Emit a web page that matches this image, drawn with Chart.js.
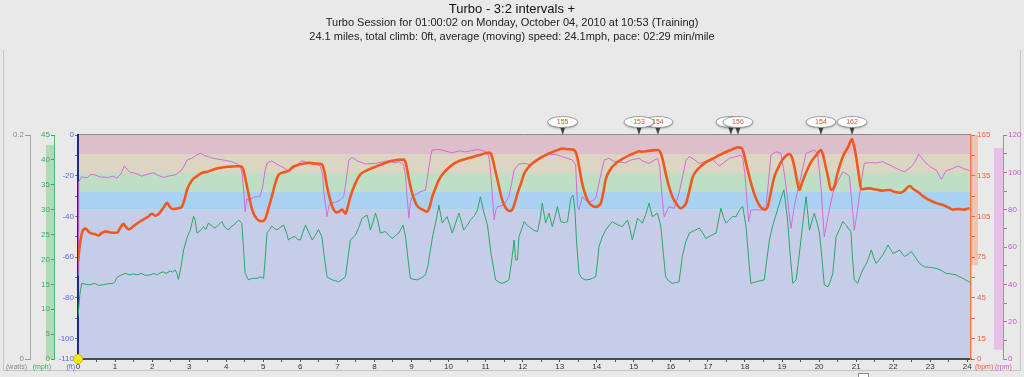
<!DOCTYPE html>
<html>
<head>
<meta charset="utf-8">
<script src="https://cdn.jsdelivr.net/npm/chart.js@4.4.1/dist/chart.umd.min.js"></script>
<style>
  html, body { margin: 0; padding: 0; background: #e9e9e9; overflow: hidden; }
  canvas { display: block; }
</style>
</head>
<body>
<canvas id="workout" width="1024" height="377"></canvas>
<script>
// Turbo session: heart rate, cadence and speed against distance (miles)

const titleText = 'Turbo - 3:2 intervals +';
const subtitleLines = [
    'Turbo Session for 01:00:02 on Monday, October 04, 2010 at 10:53 (Training)',
    '24.1 miles, total climb: 0ft, average (moving) speed: 24.1mph, pace: 02:29 min/mile'
];

// axis ranges
const distanceMax = 24.1;
const elevationRange = [-110, 0];
const speedAxisRange = [0, 45];
const powerAxisRange = [0, 0.2];
const hrAxisRange = [0, 165];
const cadenceAxisRange = [0, 120];

// heart rate zone edges (bpm), bottom to top
const hrZoneEdges = [0, 110, 123.5, 137, 151, 165];
const hrZoneColors = ['#c5cde8', '#a9d1f2', '#bfdfc5', '#dcd5c3', '#dcbfca'];

// min/max markers drawn on the axes
const speedSpan = [0, 43];
const hrSpan = [69, 165];
const cadenceSpan = [5, 113];

// [miles, bpm]
const heartRate = [
    [0,72],[0.05,84],[0.12,94],[0.2,96],[0.32,93],[0.45,92],[0.55,91],[0.65,93],[0.75,94],[0.9,93],
    [1.05,93],[1.15,97],[1.22,99.5],[1.3,97],[1.38,95.5],[1.5,98],[1.72,102],[1.9,105],[1.99,107],[2.1,105.5],
    [2.2,107.5],[2.32,112],[2.4,115],[2.48,112],[2.55,110.5],[2.7,111],[2.8,112],[2.88,118],[2.94,124.5],[3.07,131.5],
    [3.2,134.5],[3.34,137],[3.5,138],[3.7,140],[3.9,141],[4.06,141.6],[4.25,142],[4.38,142],[4.44,141],[4.5,135],
    [4.6,122],[4.7,110],[4.78,105],[4.88,102],[4.96,101.5],[5.05,103],[5.14,111],[5.23,119.5],[5.32,129],[5.41,135.5],
    [5.55,137.5],[5.68,138.5],[5.8,141.5],[5.95,143],[6.1,144],[6.22,144.6],[6.4,144],[6.58,143.5],[6.65,138],[6.72,127],
    [6.82,116],[6.9,110],[6.98,108],[7.04,108.5],[7.13,110],[7.22,107],[7.28,112],[7.35,119.5],[7.48,129],[7.62,136],
    [7.8,139],[8.03,141.6],[8.25,144],[8.48,146],[8.65,146.8],[8.79,147],[8.85,144],[8.92,134],[9.02,122],[9.15,113],
    [9.3,110],[9.42,108.5],[9.5,113],[9.56,119.5],[9.65,126],[9.74,132],[9.9,138],[10.1,143],[10.3,146],[10.55,148],
    [10.8,150],[11.0,151.5],[11.09,152],[11.15,151],[11.2,146],[11.32,132],[11.45,117],[11.55,111],[11.63,109],[11.72,110],
    [11.8,116],[11.86,122],[11.95,129],[12.05,137],[12.15,141],[12.26,144],[12.5,148.5],[12.71,151.5],[12.9,153.5],[13.08,155],
    [13.25,154.5],[13.39,154],[13.45,151],[13.5,145],[13.61,129],[13.75,117],[13.85,113.5],[13.97,112],[14.05,113],[14.11,114.7],
    [14.18,123],[14.24,132],[14.35,139],[14.51,144],[14.7,147.5],[14.87,150],[15.05,152],[15.14,153],[15.23,152.7],[15.45,153.5],
    [15.65,154],[15.72,152],[15.77,148],[15.85,138],[15.95,127],[16.05,119],[16.14,114.7],[16.27,111],[16.35,112.5],[16.41,114.7],
    [16.5,124],[16.59,134],[16.75,140.5],[16.95,145],[17.2,148.5],[17.4,151.5],[17.62,154],[17.81,156],[17.9,155.5],[17.95,153],
    [18.04,143],[18.12,134],[18.2,126],[18.3,118],[18.42,112],[18.52,110],[18.61,112],[18.7,123],[18.79,134],[18.88,140],
    [18.97,145],[19.1,149.5],[19.2,151],[19.26,149],[19.33,142],[19.4,132],[19.47,124.5],[19.53,129],[19.6,134],[19.7,140.5],
    [19.78,145],[19.92,150],[20.05,154],[20.1,151],[20.16,144],[20.25,133],[20.32,124.5],[20.41,127],[20.5,137],[20.64,149],
    [20.78,156],[20.89,162],[20.95,156],[21.0,149],[21.07,136],[21.14,125],[21.25,125.5],[21.36,125.7],[21.5,125],[21.7,124],
    [21.9,124.5],[22.05,123],[22.2,122.5],[22.3,124],[22.44,127.4],[22.55,125],[22.67,123],[22.8,120],[22.98,117],[23.15,115],
    [23.34,113.4],[23.5,111.5],[23.61,110],[23.75,110.5],[23.9,110],[24.06,111]
];

// [miles, rpm]
const cadence = [
    [0,45],[0.02,95],[0.1,97.6],[0.25,97],[0.35,99],[0.46,98.6],[0.6,97.5],[0.82,97.3],[0.95,98],[1.05,96.8],
    [1.15,99],[1.25,103.4],[1.33,101.5],[1.41,100],[1.55,99.5],[1.72,98],[1.88,99],[2.04,99.8],[2.15,98.5],[2.31,97.3],
    [2.45,98],[2.62,98.6],[2.72,100],[2.8,101.2],[2.88,104],[2.94,106.6],[3.07,107.5],[3.18,109],[3.3,110.2],[3.42,109],
    [3.52,108.4],[3.65,107.5],[3.79,107],[3.95,106.5],[4.15,105.7],[4.3,104.5],[4.38,103.4],[4.43,99],[4.47,90.5],[4.51,79],
    [4.56,86],[4.6,85],[4.74,86.6],[4.85,87],[4.92,87.3],[4.98,92],[5.05,101],[5.1,104.8],[5.23,106.2],[5.35,104.5],
    [5.5,103],[5.68,100.9],[5.8,102],[5.9,103.8],[6.05,106.2],[6.2,105],[6.32,104.5],[6.45,104],[6.54,103.4],[6.6,99],
    [6.63,90.5],[6.72,76.2],[6.77,82],[6.81,83.4],[6.99,84.3],[7.1,85.5],[7.17,87],[7.24,96],[7.31,106.6],[7.4,108],
    [7.55,106],[7.76,104.5],[8.03,104.8],[8.2,105.5],[8.39,106.2],[8.55,105],[8.66,105.7],[8.79,104],[8.84,98],[8.88,87],
    [8.93,75.4],[8.97,84],[9.02,87],[9.15,88.5],[9.24,89.6],[9.38,90.5],[9.45,100],[9.52,109],[9.56,112],[9.74,112.3],
    [9.9,111.5],[10.1,110.5],[10.3,111.5],[10.46,111],[10.6,111.5],[10.78,112.3],[10.95,111.5],[11.05,110.5],[11.1,107],[11.14,99.5],
    [11.23,74.5],[11.28,80],[11.32,81.6],[11.49,82.5],[11.63,87],[11.7,94],[11.77,101.2],[11.9,104.5],[12.08,104.8],[12.2,104],
    [12.35,105.7],[12.5,107.5],[12.71,109.8],[12.9,109.5],[13.07,108.4],[13.2,107.5],[13.34,106.6],[13.43,104],[13.48,81.6],[13.52,79.8],
    [13.61,87],[13.7,85],[13.84,84.3],[13.97,86],[14.08,96],[14.2,106.6],[14.33,107.5],[14.45,106],[14.6,105.7],[14.75,105],
    [14.92,106.6],[15.14,107.5],[15.25,106],[15.41,104.8],[15.55,106.5],[15.64,107.5],[15.7,103],[15.77,85],[15.82,76.2],[15.95,81.6],
    [16.09,80.7],[16.22,88.8],[16.32,98],[16.41,106.6],[16.5,108.4],[16.62,107],[16.77,104.8],[16.95,106],[17.13,107],[17.22,105],
    [17.31,103.4],[17.45,105.5],[17.58,107.5],[17.76,108.4],[17.89,109.3],[17.94,107.5],[18.0,99],[18.03,90.5],[18.1,73.5],[18.16,79.8],
    [18.3,80],[18.43,79.8],[18.57,82.5],[18.64,96],[18.7,109.3],[18.84,111],[18.97,110.2],[19.04,102],[19.11,92.3],[19.24,70],
    [19.33,81.6],[19.42,90],[19.51,97.7],[19.58,104],[19.65,110.2],[19.87,112],[19.96,110.2],[20.05,92.3],[20.14,65.5],[20.24,76.2],
    [20.37,88.8],[20.5,95],[20.64,100.3],[20.75,99],[20.82,97.7],[20.88,85],[20.95,69],[21.05,81.6],[21.14,95],[21.22,104.8],
    [21.36,105.2],[21.55,105],[21.72,105.7],[21.9,104],[22.08,102.2],[22.2,101],[22.31,100.3],[22.49,103],[22.6,106],[22.69,109.8],
    [22.85,105.7],[23.0,103],[23.16,101.2],[23.3,96.3],[23.43,100.9],[23.6,102],[23.75,103.4],[23.9,102],[24.06,100.9]
];

// [miles, mph]
const speed = [
    [0,8.5],[0.05,13],[0.1,15.2],[0.2,15],[0.32,14.9],[0.45,15.2],[0.55,14.8],[0.68,14.9],[0.8,15.1],[0.95,15.2],
    [1.0,15.6],[1.05,16.4],[1.15,16.8],[1.27,17.2],[1.4,16.9],[1.5,17.1],[1.59,16.9],[1.7,17.2],[1.82,16.8],[1.95,16.9],
    [2.05,17.2],[2.12,16.9],[2.22,17.3],[2.3,17.5],[2.38,17.2],[2.49,17.7],[2.55,17.5],[2.62,17.9],[2.67,17.2],[2.71,16],
    [2.78,18.5],[2.85,21.9],[2.95,24.5],[3.03,25.9],[3.12,28.7],[3.16,28],[3.21,25.3],[3.3,25.8],[3.39,26.6],[3.45,26],
    [3.52,27.3],[3.6,26.8],[3.7,26.3],[3.8,27],[3.88,27.6],[3.96,26.5],[4.06,25.9],[4.13,26.6],[4.2,26.9],[4.28,27.5],
    [4.33,27.9],[4.42,27.3],[4.46,23],[4.51,17.2],[4.6,15.9],[4.7,16.2],[4.83,16.2],[4.92,16.5],[5.01,16.2],[5.05,20],
    [5.1,25.3],[5.17,26],[5.23,26.7],[5.3,26.2],[5.37,25.9],[5.45,26.4],[5.55,26.9],[5.62,25.5],[5.68,23.9],[5.77,24.4],
    [5.86,24.6],[5.93,24],[6.0,23.9],[6.07,25.5],[6.14,26.9],[6.22,25.6],[6.32,23.9],[6.4,24.8],[6.49,26],[6.58,24.6],
    [6.64,21],[6.72,16.5],[6.86,15.9],[6.95,15.7],[7.04,15.5],[7.13,16],[7.22,16.5],[7.28,20],[7.35,23.9],[7.49,24.9],
    [7.58,26.5],[7.67,28.3],[7.8,28.9],[7.85,27.5],[7.89,25.9],[7.96,27.5],[8.03,29.3],[8.1,27.5],[8.16,25.3],[8.3,25.6],
    [8.4,24.8],[8.48,24.2],[8.57,24.8],[8.66,25.3],[8.77,26.9],[8.84,24.6],[8.9,20.5],[8.97,16.2],[9.06,16],[9.15,15.9],
    [9.27,16.3],[9.38,16.9],[9.45,19],[9.51,21.9],[9.58,25],[9.65,27.3],[9.74,30.9],[9.83,27.3],[9.9,28],[9.96,28.6],
    [10.03,27],[10.1,25.3],[10.2,27.5],[10.28,29.3],[10.35,27.5],[10.41,25.9],[10.5,26.8],[10.59,27.9],[10.7,28.8],[10.78,29.9],
    [10.86,32.6],[10.95,29.6],[11.05,26.9],[11.15,21],[11.27,15.9],[11.36,15.4],[11.45,15.2],[11.55,15.5],[11.63,15.9],[11.7,19.5],
    [11.77,23.9],[11.81,19.9],[11.86,19.9],[11.9,24.6],[11.97,26],[12.04,27.6],[12.13,26.8],[12.22,26.3],[12.31,25.8],[12.4,25.6],
    [12.47,28],[12.53,31.3],[12.62,27.3],[12.71,29.3],[12.8,26.6],[12.87,28.5],[12.94,30.6],[13.03,27.6],[13.12,27.4],[13.21,27.6],
    [13.3,32.3],[13.36,32.9],[13.41,29.9],[13.46,23],[13.52,17.2],[13.6,16.2],[13.7,15.9],[13.82,16],[13.9,16.3],[13.97,16.5],
    [14.02,19.5],[14.06,22.6],[14.15,24.5],[14.24,25.9],[14.33,26.8],[14.42,27.6],[14.55,27],[14.69,26.6],[14.76,27.3],[14.83,27.9],
    [14.9,26],[14.96,23.9],[15.03,26],[15.1,28.3],[15.23,27.3],[15.32,29],[15.41,31.3],[15.5,28.6],[15.64,29.3],[15.73,26.6],
    [15.8,21],[15.86,16.5],[15.95,15.6],[16.05,15.2],[16.15,15.4],[16.22,15.5],[16.31,20.6],[16.4,23.5],[16.5,25.3],[16.63,25.8],
    [16.77,26.3],[16.86,25.3],[16.95,24.2],[17.08,24.8],[17.22,25.3],[17.35,30.3],[17.42,28.5],[17.49,27.3],[17.58,28],[17.67,28.6],
    [17.76,28.6],[17.82,29.5],[17.89,30.3],[17.94,30.6],[18.03,26.6],[18.1,20],[18.16,15.2],[18.3,15.5],[18.41,15.7],[18.52,15.9],
    [18.59,20],[18.66,23.9],[18.75,26.9],[18.84,29],[18.93,31.3],[19.05,34],[19.1,31],[19.15,27.9],[19.22,21],[19.29,15.2],
    [19.38,15.9],[19.45,20],[19.51,23.9],[19.58,28.5],[19.65,32.6],[19.74,25.9],[19.8,27.5],[19.87,29.3],[19.94,27.5],[20.01,25.3],
    [20.08,20],[20.14,14.9],[20.24,14.5],[20.3,15.5],[20.37,17.2],[20.46,24.6],[20.55,26],[20.64,27.6],[20.72,27],[20.78,26.3],
    [20.86,25.6],[20.9,20.5],[20.95,15.9],[21.04,15.2],[21.1,16.5],[21.18,17.9],[21.3,19.5],[21.41,21.9],[21.47,20.5],[21.54,19.2],
    [21.63,20],[21.72,20.9],[21.8,22],[21.86,22.9],[21.93,22],[21.99,21.2],[22.08,21.5],[22.17,21.9],[22.24,21.2],[22.31,20.6],
    [22.4,21],[22.49,21.6],[22.6,20.4],[22.71,19.2],[22.78,18.8],[22.85,18.5],[23.0,18.4],[23.16,18.2],[23.3,17.8],[23.43,17.2],
    [23.55,17.1],[23.7,16.9],[23.8,16.5],[23.88,16.2],[24.0,15.7],[24.11,15.2]
];

// heart rate peak callouts [miles, bpm], in drawing order
const hrPeaks = [[13.08,155],[15.65,154],[15.14,153],[17.62,155],[17.81,156],[20.05,154],[20.89,162]];

// start marker [miles, ft]
const startMarker = [[0, -110]];

const unitLabels = [
    { axis: 'watts', text: '(watts)', color: '#8a8a8a' },
    { axis: 'mph',   text: '(mph)',   color: '#3aa85a' },
    { axis: 'ft',    text: '(ft)',    color: '#5b6be0' },
    { axis: 'bpm',   text: '(bpm)',   color: '#e8643c' },
    { axis: 'rpm',   text: '(rpm)',   color: '#cc55cc' }
];

const tickFont = { size: 8 };

function fixedWidth(w) {
    return scale => { scale.width = w; };
}

// background, hr zone bands and the axis span markers
const backdropPlugin = {
    id: 'backdrop',
    beforeDraw(chart) {
        const { ctx, chartArea: a, scales } = chart;
        ctx.save();
        ctx.fillStyle = '#e9e9e9';
        ctx.fillRect(0, 0, chart.width, chart.height);

        // frame
        ctx.strokeStyle = '#c4c4c4';
        ctx.lineWidth = 1;
        ctx.beginPath();
        ctx.moveTo(3.5, 50);
        ctx.lineTo(3.5, 370.5);
        ctx.lineTo(1020.5, 370.5);
        ctx.lineTo(1020.5, 50);
        ctx.stroke();

        const bpm = scales.bpm;
        for (let i = 0; i < hrZoneColors.length; i++) {
            const top = bpm.getPixelForValue(hrZoneEdges[i + 1]);
            const bottom = bpm.getPixelForValue(hrZoneEdges[i]);
            ctx.fillStyle = hrZoneColors[i];
            ctx.fillRect(a.left, top, a.right - a.left, bottom - top);
        }

        // plot top edge
        ctx.strokeStyle = '#8c8c8c';
        ctx.beginPath();
        ctx.moveTo(a.left, a.top - 0.5);
        ctx.lineTo(a.right, a.top - 0.5);
        ctx.stroke();

        const spans = [
            { scale: scales.mph, range: speedSpan, x: scales.mph.right - 8, w: 8, color: 'rgba(110,200,125,0.45)' },
            { scale: scales.bpm, range: hrSpan, x: scales.bpm.left, w: 7, color: 'rgba(245,150,110,0.45)' },
            { scale: scales.rpm, range: cadenceSpan, x: scales.rpm.left - 9, w: 9, color: 'rgba(230,150,230,0.5)' }
        ];
        spans.forEach(s => {
            const y1 = s.scale.getPixelForValue(s.range[1]);
            const y0 = s.scale.getPixelForValue(s.range[0]);
            ctx.fillStyle = s.color;
            ctx.fillRect(s.x, y1, s.w, y0 - y1);
        });
        ctx.restore();
    }
};

// unit labels under the y axes, peak callouts, HUD checkbox
const overlayPlugin = {
    id: 'overlay',
    afterDraw(chart) {
        const { ctx, scales } = chart;
        ctx.save();
        ctx.font = '7px "Liberation Sans", Arial, sans-serif';
        ctx.textBaseline = 'middle';
        unitLabels.forEach(u => {
            const s = scales[u.axis];
            ctx.fillStyle = u.color;
            if (s.position === 'left') {
                ctx.textAlign = 'right';
                ctx.fillText(u.text, s.right - 3, 367);
            } else {
                ctx.textAlign = 'left';
                ctx.fillText(u.text, u.axis === 'rpm' ? s.left - 8 : s.left + 4, 367);
            }
        });

        const top = chart.chartArea.top;
        hrPeaks.forEach(([mile, bpm]) => {
            const cx = scales.x.getPixelForValue(mile);
            const cy = top - 13;
            ctx.fillStyle = '#444';
            ctx.beginPath();
            ctx.moveTo(cx - 3, cy + 4);
            ctx.lineTo(cx, top);
            ctx.lineTo(cx + 3, cy + 4);
            ctx.closePath();
            ctx.fill();

            ctx.shadowColor = 'rgba(0,0,0,0.35)';
            ctx.shadowBlur = 2;
            ctx.shadowOffsetY = 1;
            ctx.fillStyle = '#ffffff';
            ctx.beginPath();
            ctx.ellipse(cx, cy, 15, 5.5, 0, 0, Math.PI * 2);
            ctx.fill();
            ctx.shadowColor = 'transparent';
            ctx.strokeStyle = '#8a8a8a';
            ctx.lineWidth = 0.8;
            ctx.stroke();

            ctx.fillStyle = '#e0502a';
            ctx.textAlign = 'center';
            ctx.fillText(String(bpm), cx, cy + 0.5);
        });

        // Show Data HUD toggle, mostly below the visible area
        ctx.fillStyle = '#ffffff';
        ctx.strokeStyle = '#8a8a8a';
        ctx.lineWidth = 1;
        ctx.fillRect(858.5, 373.5, 10, 10);
        ctx.strokeRect(858.5, 373.5, 10, 10);
        ctx.fillStyle = '#222';
        ctx.font = '11px "Liberation Sans", Arial, sans-serif';
        ctx.textAlign = 'left';
        ctx.textBaseline = 'alphabetic';
        ctx.fillText('Show Data HUD', 874, 385);
        ctx.restore();
    }
};

function createWorkoutChart(canvasId) {
    const ctx = document.getElementById(canvasId);

    Chart.defaults.font.family = '"Liberation Sans", Arial, sans-serif';

    return new Chart(ctx, {
        type: 'line',
        plugins: [backdropPlugin, overlayPlugin],
        data: {
            datasets: [
                {
                    label: 'start',
                    data: startMarker,
                    yAxisID: 'ft',
                    showLine: false,
                    pointRadius: 4.5,
                    pointBackgroundColor: '#f4ea1c',
                    pointBorderColor: '#c9b800',
                    pointBorderWidth: 1,
                    clip: false
                },
                {
                    label: 'Heart rate',
                    data: heartRate,
                    yAxisID: 'bpm',
                    borderColor: '#f2581e',
                    borderWidth: 2.6,
                    pointRadius: 0,
                    cubicInterpolationMode: 'monotone'
                },
                {
                    label: 'Cadence',
                    data: cadence,
                    yAxisID: 'rpm',
                    borderColor: '#d86ad8',
                    borderWidth: 1,
                    pointRadius: 0,
                    tension: 0
                },
                {
                    label: 'Speed',
                    data: speed,
                    yAxisID: 'mph',
                    borderColor: '#2aa866',
                    borderWidth: 1,
                    pointRadius: 0,
                    tension: 0
                }
            ]
        },
        options: {
            responsive: false,
            animation: false,
            events: [],
            layout: { padding: 0 },
            plugins: {
                legend: { display: false },
                tooltip: { enabled: false },
                title: {
                    display: true,
                    text: titleText,
                    color: '#111',
                    font: { size: 13, weight: 'normal', lineHeight: 1.1 },
                    padding: { top: 2, bottom: 0 }
                },
                subtitle: {
                    display: true,
                    text: subtitleLines,
                    color: '#222',
                    font: { size: 11, lineHeight: '14px' },
                    padding: { top: 0, bottom: 90.7 }
                }
            },
            scales: {
                x: {
                    type: 'linear',
                    position: 'bottom',
                    min: 0,
                    max: distanceMax,
                    ticks: {
                        stepSize: 0.5,
                        autoSkip: false,
                        includeBounds: false,
                        maxRotation: 0,
                        padding: 0,
                        color: '#333',
                        font: tickFont,
                        callback: v => Number.isInteger(v) ? v : ''
                    },
                    grid: { drawOnChartArea: false, tickLength: 3, color: '#555' },
                    border: { color: '#4a4a4a', width: 2 },
                    afterFit: scale => { scale.height = 18; }
                },
                ft: {
                    type: 'linear',
                    position: 'left',
                    weight: 0,
                    min: elevationRange[0],
                    max: elevationRange[1],
                    ticks: {
                        stepSize: 10,
                        padding: 1,
                        color: '#5b6be0',
                        font: tickFont,
                        callback: v => (v % 20 === 0 || v === -110) ? v : ''
                    },
                    grid: { drawOnChartArea: false, tickLength: 3, color: '#5b6be0' },
                    border: { color: '#1d2a78', width: 2 },
                    afterFit: fixedWidth(24)
                },
                mph: {
                    type: 'linear',
                    position: 'left',
                    weight: 1,
                    min: speedAxisRange[0],
                    max: speedAxisRange[1],
                    ticks: { stepSize: 5, padding: 1, color: '#3aa85a', font: tickFont },
                    grid: { drawOnChartArea: false, tickLength: 3, color: '#3aa85a' },
                    border: { color: '#4cbb6a', width: 1 },
                    afterFit: fixedWidth(24)
                },
                watts: {
                    type: 'linear',
                    position: 'left',
                    weight: 2,
                    min: powerAxisRange[0],
                    max: powerAxisRange[1],
                    afterBuildTicks: scale => {
                        scale.ticks = powerAxisRange.map(v => ({ value: v }));
                    },
                    ticks: { padding: 1, color: '#8a8a8a', font: tickFont },
                    grid: { drawOnChartArea: false, tickLength: 5, color: '#9a9a9a' },
                    border: { color: '#a8a8a8', width: 1 },
                    afterFit: fixedWidth(30)
                },
                bpm: {
                    type: 'linear',
                    position: 'right',
                    weight: 0,
                    min: hrAxisRange[0],
                    max: hrAxisRange[1],
                    ticks: {
                        stepSize: 15,
                        padding: 2,
                        color: '#e8643c',
                        font: tickFont,
                        callback: v => (v === 0 || (165 - v) % 30 === 0) ? v : ''
                    },
                    grid: { drawOnChartArea: false, tickLength: 4, color: '#e8643c' },
                    border: { color: '#ee7a50', width: 1.5 },
                    afterFit: fixedWidth(32)
                },
                rpm: {
                    type: 'linear',
                    position: 'right',
                    weight: 1,
                    min: cadenceAxisRange[0],
                    max: cadenceAxisRange[1],
                    ticks: {
                        stepSize: 10,
                        padding: 1,
                        color: '#cc55cc',
                        font: tickFont,
                        callback: v => v % 20 === 0 ? v : ''
                    },
                    grid: { drawOnChartArea: false, tickLength: 4, color: '#cc55cc' },
                    border: { color: '#d070d0', width: 1 },
                    afterFit: fixedWidth(21)
                }
            }
        }
    });
}

createWorkoutChart('workout');
</script>
</body>
</html>
